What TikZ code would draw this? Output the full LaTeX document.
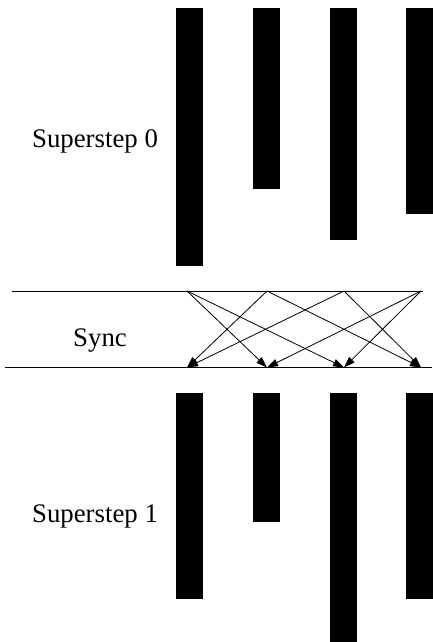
\documentclass[tikz,border=0pt]{standalone}
\usepackage{fontspec}
\setmainfont{Liberation Serif}
\usetikzlibrary{arrows.meta}
\begin{document}
\begin{tikzpicture}[x=1pt,y=-1pt,
  bar/.style={fill=black},
  rule/.style={line width=1pt},
  msg/.style={line width=0.8pt,-{Triangle[length=11pt,width=7.5pt]}},
  lbl/.style={anchor=base,inner sep=0pt,font=\fontsize{26.8}{32}\selectfont}]
\useasboundingbox (0,0) rectangle (432,642);
% superstep 0 bars
\fill[bar] (175.5,8) rectangle (202.5,266);
\fill[bar] (252.5,8) rectangle (279.5,189);
\fill[bar] (329.5,8) rectangle (356.5,240);
\fill[bar] (406,8) rectangle (433,214);
% superstep 1 bars
\fill[bar] (175.5,393) rectangle (202.5,599);
\fill[bar] (252.5,393) rectangle (279.5,522);
\fill[bar] (329.5,393) rectangle (356.5,643);
\fill[bar] (406,393) rectangle (433,599);
% labels
\node[lbl] (s0) at (95,147) {Superstep 0};
\node[lbl] (sy) at (100,346) {Sync};
\node[lbl] (s1) at (95,522) {Superstep 1};
% sync lines
\coordinate (la) at (12,291);
\coordinate (lb) at (423,291);
\coordinate (ma) at (5,367.5);
\coordinate (mb) at (432,367.5);
\draw[rule] (la) -- (lb);
\draw[rule] (ma) -- (mb);
% message endpoints
\coordinate (t1) at (187,291);
\coordinate (t2) at (267,291);
\coordinate (t3) at (344,291);
\coordinate (t4) at (421,291);
\coordinate (b1) at (187,367.5);
\coordinate (b2) at (267,367.5);
\coordinate (b3) at (344,367.5);
\coordinate (b4) at (421,367.5);
\draw[msg] (t1) -- (b2);
\draw[msg] (t1) -- (b3);
\draw[msg] (t2) -- (b1);
\draw[msg] (t2) -- (b4);
\draw[msg] (t3) -- (b1);
\draw[msg] (t3) -- (b4);
\draw[msg] (t4) -- (b2);
\draw[msg] (t4) -- (b3);
\end{tikzpicture}
\end{document}
